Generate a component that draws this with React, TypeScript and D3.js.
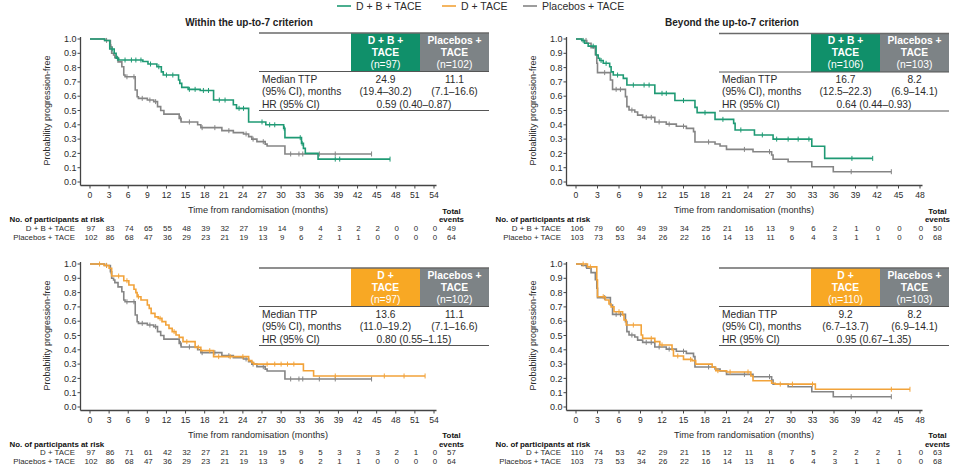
import React from 'react';
import * as d3 from 'd3';

type Step = [number, number];

const FONT = '"Liberation Sans", Arial, Helvetica, sans-serif';
const GREEN = '#1f9a74';
const GREEN_CELL = '#10906a';
const ORANGE = '#f2a33a';
const ORANGE_CELL = '#f8a824';
const GREY = '#858585';
const GREY_CELL = '#7d8386';
const INK = '#2b2b2b';

// legend
const legendLabels = ['D + B + TACE', 'D + TACE', 'Placebos + TACE'];

// axis ticks
const xTicksWithin = [0, 3, 6, 9, 12, 15, 18, 21, 24, 27, 30, 33, 36, 39, 42, 45, 48, 51, 54];
const xTicksBeyond = [0, 3, 6, 9, 12, 15, 18, 21, 24, 27, 30, 33, 36, 39, 42, 45, 48];
const yTicks = [0, 0.1, 0.2, 0.3, 0.4, 0.5, 0.6, 0.7, 0.8, 0.9, 1.0];

// Kaplan-Meier steps: [month, probability after the drop]
const dbWithin: Step[] = [
  [0, 1], [2.3, 0.99], [3.1, 0.93], [3.8, 0.9], [4.1, 0.865], [4.5, 0.853], [8.3, 0.843],
  [9.1, 0.825], [10.5, 0.806], [11.2, 0.77], [11.5, 0.748], [13.9, 0.713], [14.1, 0.69],
  [14.4, 0.662], [15.4, 0.648], [17.3, 0.64], [19.4, 0.573], [22.5, 0.54], [23.0, 0.515],
  [24.9, 0.42], [27.6, 0.4], [30.4, 0.375], [30.6, 0.31], [33.2, 0.27], [33.5, 0.235],
  [33.8, 0.2], [35.8, 0.16],
];
const dbWithinEnd = 47.1;
const dbWithinCensor = [3.5, 4.3, 5.5, 6.5, 7.2, 8, 9.5, 10.8, 12, 13, 15.6, 16.5, 17.8, 18.6, 20.3, 21.2, 23.4, 24.1, 27, 28.2, 29, 30.5, 33, 33.3, 38.5, 39.2, 47.1];

const placeboWithin: Step[] = [
  [0, 1], [2.3, 0.99], [3.2, 0.946], [3.4, 0.9], [3.7, 0.888], [3.9, 0.87], [4.4, 0.84],
  [5.0, 0.806], [5.3, 0.748], [5.5, 0.736], [7.1, 0.643], [7.4, 0.596], [7.6, 0.585],
  [9.0, 0.573], [10.0, 0.562], [10.6, 0.527], [11.1, 0.5], [11.6, 0.475], [14.0, 0.445],
  [14.3, 0.42], [16.9, 0.4], [17.4, 0.38], [20.7, 0.359], [22.5, 0.345], [24.1, 0.336],
  [24.9, 0.317], [25.4, 0.3], [26.2, 0.282], [27.5, 0.265], [27.8, 0.252], [30.6, 0.196],
];
const placeboWithinEnd = 44.2;
const placeboWithinCensor = [2.6, 3.3, 5.8, 6.9, 8.2, 9.4, 10.3, 14.2, 15.6, 17.6, 19.6, 21.8, 24.5, 25.6, 27.2, 31.5, 32.8, 33.4, 36, 38.5, 44.2];

const dWithin: Step[] = [
  [0, 1], [2.2, 0.99], [3.0, 0.97], [3.4, 0.916], [5.3, 0.883], [6.1, 0.853], [6.9, 0.823],
  [7.2, 0.8], [7.4, 0.771], [8.0, 0.748], [9.0, 0.713], [9.3, 0.69], [9.6, 0.655],
  [10.2, 0.63], [10.7, 0.62], [11.3, 0.597], [11.9, 0.573], [12.4, 0.55], [12.9, 0.527],
  [13.5, 0.503], [14.0, 0.487], [14.6, 0.457], [16.5, 0.417], [17.4, 0.394], [19.4, 0.352],
  [24.9, 0.324], [25.4, 0.31], [25.7, 0.3], [33.5, 0.254], [35.1, 0.217],
];
const dWithinEnd = 52.6;
const dWithinCensor = [1.5, 2.6, 4.5, 5.8, 7.6, 11, 13.2, 15.2, 17, 18.8, 20.2, 22, 24, 27.8, 29, 30, 31, 32, 38.5, 46.2, 49.3, 52.6];

const dbBeyond: Step[] = [
  [0, 1], [0.8, 0.99], [1.2, 0.97], [1.7, 0.95], [2.8, 0.888], [3.1, 0.865], [3.3, 0.85],
  [3.8, 0.83], [4.7, 0.806], [4.9, 0.77], [5.2, 0.748], [6.6, 0.725], [7.1, 0.678],
  [11.0, 0.62], [13.8, 0.57], [16.6, 0.522], [16.9, 0.485], [19.4, 0.438], [22.0, 0.41],
  [22.2, 0.364], [24.9, 0.329], [27.5, 0.3], [32.9, 0.25], [34.7, 0.165],
];
const dbBeyondEnd = 41.4;
const dbBeyondCensor = [1, 2.4, 3.5, 4.2, 5.8, 8, 9.5, 10.2, 12, 12.6, 15, 18, 20.5, 23, 26, 28, 29.6, 31, 32.5, 38.5, 41.4];

const placeboBeyond: Step[] = [
  [0, 1], [0.8, 0.99], [1.5, 0.97], [2.1, 0.94], [2.7, 0.89], [2.9, 0.83], [3.0, 0.765],
  [4.8, 0.713], [5.1, 0.648], [6.9, 0.597], [7.1, 0.527], [7.4, 0.503], [8.2, 0.49],
  [8.6, 0.468], [9.3, 0.452], [11.0, 0.42], [12.6, 0.405], [14.0, 0.39], [15.4, 0.375],
  [16.4, 0.352], [16.6, 0.28], [19.4, 0.266], [20.1, 0.252], [21.0, 0.228], [24.7, 0.212],
  [27.3, 0.189], [27.5, 0.159], [29.6, 0.142], [32.9, 0.107], [35.9, 0.072],
];
const placeboBeyondEnd = 44.0;
const placeboBeyondCensor = [1.4, 4, 5.6, 6.2, 7.8, 9.8, 10.5, 11.6, 13, 15, 18.5, 23.5, 27, 38.4, 44];

const dBeyond: Step[] = [
  [0, 1], [1.6, 0.98], [2.9, 0.888], [3.0, 0.771], [4.1, 0.748], [4.6, 0.72], [4.9, 0.7],
  [5.3, 0.666], [6.5, 0.643], [6.7, 0.608], [7.0, 0.573], [9.1, 0.503], [9.3, 0.48],
  [11.0, 0.457], [11.7, 0.434], [13.4, 0.4], [13.6, 0.357], [15.0, 0.333], [16.2, 0.324],
  [16.7, 0.3], [19.0, 0.278], [19.5, 0.254], [21.0, 0.245], [24.4, 0.217], [24.7, 0.184],
  [27.3, 0.166], [27.8, 0.16], [33.4, 0.124],
];
const dBeyondEnd = 46.6;
const dBeyondCensor = [1, 2, 3.8, 6, 8, 10.5, 12, 14.2, 16, 19.8, 21.5, 24, 28.5, 30.2, 33, 44, 46.6];

// participants at risk
const riskDbWithin = [97, 83, 74, 65, 55, 48, 39, 32, 27, 19, 14, 9, 4, 3, 2, 2, 0, 0, 0];
const riskPlaceboWithin = [102, 86, 68, 47, 36, 29, 23, 21, 19, 13, 9, 6, 2, 1, 1, 0, 0, 0, 0];
const riskDWithin = [97, 86, 71, 61, 42, 32, 27, 21, 21, 19, 15, 9, 5, 3, 3, 3, 2, 1, 0];
const riskDbBeyond = [106, 79, 60, 49, 39, 34, 25, 21, 16, 13, 9, 6, 2, 1, 0, 0, 0];
const riskPlaceboBeyond = [103, 73, 53, 34, 26, 22, 16, 14, 13, 11, 6, 4, 3, 1, 1, 0, 0];
const riskDBeyond = [110, 74, 53, 42, 29, 21, 15, 12, 11, 8, 7, 5, 2, 2, 2, 1, 0];

interface Series { steps: Step[]; end: number; censor: number[]; color: string }
interface RiskRow { label: string; values: number[]; total: number }
interface TableCfg {
  x: number; y: number;
  head: { lines: string[]; color: string }[];
  median: string[]; ci: string[]; hr: string;
}
interface PanelCfg {
  x0: number; x1: number; y1: number; y0: number;
  xMax: number; xTicks: number[];
  title?: string; titleX?: number;
  series: Series[];
  table: TableCfg;
  riskHeadY: number; riskRowsY: number[]; totalY: number[];
  risk: RiskRow[];
}

const survAt = (steps: Step[], t: number) => {
  let s = 1;
  for (const [ts, v] of steps) if (ts <= t) s = v;
  return s;
};

const KMTable: React.FC<{ t: TableCfg }> = ({ t }) => {
  const labelW = 92;
  const colW = 69;
  const headH = 38.5;
  const totalH = 77.5;
  const col = (i: number) => t.x + labelW + colW * i;
  return (
    <g fontFamily={FONT}>
      {t.head.map((h, i) => (
        <g key={i}>
          <rect x={col(i)} y={t.y} width={colW} height={headH} fill={h.color} />
          {h.lines.map((ln, j) => (
            <text key={j} x={col(i) + colW / 2} y={t.y + 10.5 + j * 12} textAnchor="middle"
              fill="#fff" fontSize={10.3} fontWeight={j < 2 ? 700 : 400}>{ln}</text>
          ))}
        </g>
      ))}
      <line x1={t.x} x2={col(2)} y1={t.y} y2={t.y} stroke="#6a6a6a" strokeWidth={1.4} />
      <line x1={t.x} x2={col(2)} y1={t.y + headH} y2={t.y + headH} stroke="#555" strokeWidth={1} />
      <line x1={t.x} x2={col(2)} y1={t.y + totalH} y2={t.y + totalH} stroke="#555" strokeWidth={1} />
      <g fontSize={10.2} fill={INK}>
        <text x={t.x + 3} y={t.y + 49.5}>Median TTP</text>
        <text x={t.x + 3} y={t.y + 61.5}>(95% CI), months</text>
        <text x={t.x + 3} y={t.y + 74.5}>HR (95% CI)</text>
        {t.median.map((m, i) => (
          <text key={'m' + i} x={col(i) + colW / 2} y={t.y + 49.5} textAnchor="middle">{m}</text>
        ))}
        {t.ci.map((m, i) => (
          <text key={'c' + i} x={col(i) + colW / 2} y={t.y + 61.5} textAnchor="middle">{m}</text>
        ))}
        <text x={col(1) - 6} y={t.y + 74.5} textAnchor="middle">{t.hr}</text>
      </g>
    </g>
  );
};

const KMPanel: React.FC<{ cfg: PanelCfg }> = ({ cfg }) => {
  const x = d3.scaleLinear().domain([0, cfg.xMax]).range([cfg.x0, cfg.x1]);
  const y = d3.scaleLinear().domain([0, 1]).range([cfg.y0, cfg.y1]);
  const line = d3.line<Step>().x(d => x(d[0])).y(d => y(d[1])).curve(d3.curveStepAfter);
  const axisX = cfg.x0 - 9.5;
  const axisY = cfg.y0 + 3.5;
  const fmt = d3.format('.1f');
  const rfs = 7.9;

  return (
    <g fontFamily={FONT}>
      {cfg.title && (
        <text x={cfg.titleX} y={cfg.y1 - 13} textAnchor="middle" fontSize={10} fontWeight={700} fill="#222">
          {cfg.title}
        </text>
      )}
      <KMTable t={cfg.table} />

      {/* axes */}
      <line x1={axisX} x2={axisX} y1={y(1) - 2} y2={axisY} stroke="#444" strokeWidth={1.3} />
      <line x1={axisX} x2={cfg.x1 + 2.5} y1={axisY} y2={axisY} stroke="#444" strokeWidth={1.3} />
      {yTicks.map(v => (
        <g key={v}>
          <line x1={axisX - 3} x2={axisX} y1={y(v)} y2={y(v)} stroke="#444" />
          <text x={axisX - 4} y={y(v)} dy="0.35em" textAnchor="end" fontSize={9} fill={INK}>{fmt(v)}</text>
        </g>
      ))}
      {cfg.xTicks.map(v => (
        <g key={v}>
          <line x1={x(v)} x2={x(v)} y1={axisY} y2={axisY + 3} stroke="#444" />
          <text x={x(v)} y={axisY + 12.5} textAnchor="middle" fontSize={8.6} fill={INK}>{v}</text>
        </g>
      ))}
      <text x={(cfg.x0 + cfg.x1) / 2 - 4} y={axisY + 27} textAnchor="middle" fontSize={9.2} fill={INK}>
        Time from randomisation (months)
      </text>
      <text transform={`translate(${axisX - 31},${(y(1) + y(0)) / 2}) rotate(-90)`} textAnchor="middle"
        fontSize={9} fill={INK}>
        Probability progression-free
      </text>

      {/* curves, placebo first */}
      {cfg.series.map((s, i) => {
        const last = s.steps[s.steps.length - 1][1];
        const pts: Step[] = [...s.steps, [s.end, last]];
        return (
          <g key={i}>
            <path d={line(pts) || ''} fill="none" stroke={s.color} strokeWidth={1.6} />
            {s.censor.map((c, j) => (
              <line key={j} x1={x(c)} x2={x(c)} y1={y(survAt(s.steps, c)) - 2.5}
                y2={y(survAt(s.steps, c)) + 2.5} stroke={s.color} strokeWidth={1} />
            ))}
          </g>
        );
      })}

      {/* risk table */}
      <text x={cfg.x0 - 80.5} y={cfg.riskHeadY} dy="0.35em" fontSize={rfs} fontWeight={700} fill="#111">
        No. of participants at risk
      </text>
      <text x={cfg.x1 + 17.5} y={cfg.totalY[0]} dy="0.35em" textAnchor="middle" fontSize={rfs} fontWeight={700} fill="#111">Total</text>
      <text x={cfg.x1 + 17.5} y={cfg.totalY[1]} dy="0.35em" textAnchor="middle" fontSize={rfs} fontWeight={700} fill="#111">events</text>
      {cfg.risk.map((r, i) => (
        <g key={r.label} fontSize={rfs} fill={INK}>
          <text x={cfg.x0 - 15} y={cfg.riskRowsY[i]} dy="0.35em" textAnchor="end">{r.label}</text>
          {r.values.map((v, j) => (
            <text key={j} x={x(cfg.xTicks[j]) + 1} y={cfg.riskRowsY[i]} dy="0.35em" textAnchor="middle">{v}</text>
          ))}
          <text x={cfg.x1 + 17.5} y={cfg.riskRowsY[i]} dy="0.35em" textAnchor="middle">{r.total}</text>
        </g>
      ))}
    </g>
  );
};

const panels: PanelCfg[] = [
  {
    x0: 90, x1: 434, y1: 39, y0: 182, xMax: 54, xTicks: xTicksWithin,
    title: 'Within the up-to-7 criterion', titleX: 249,
    series: [
      { steps: placeboWithin, end: placeboWithinEnd, censor: placeboWithinCensor, color: GREY },
      { steps: dbWithin, end: dbWithinEnd, censor: dbWithinCensor, color: GREEN },
    ],
    table: {
      x: 259, y: 33,
      head: [
        { lines: ['D + B +', 'TACE', '(n=97)'], color: GREEN_CELL },
        { lines: ['Placebos +', 'TACE', '(n=102)'], color: GREY_CELL },
      ],
      median: ['24.9', '11.1'], ci: ['(19.4–30.2)', '(7.1–16.6)'], hr: '0.59 (0.40–0.87)',
    },
    riskHeadY: 219, riskRowsY: [228.7, 237.2], totalY: [211, 219.5],
    risk: [
      { label: 'D + B + TACE', values: riskDbWithin, total: 49 },
      { label: 'Placebos + TACE', values: riskPlaceboWithin, total: 64 },
    ],
  },
  {
    x0: 576, x1: 920, y1: 39, y0: 182, xMax: 48, xTicks: xTicksBeyond,
    title: 'Beyond the up-to-7 criterion', titleX: 732,
    series: [
      { steps: placeboBeyond, end: placeboBeyondEnd, censor: placeboBeyondCensor, color: GREY },
      { steps: dbBeyond, end: dbBeyondEnd, censor: dbBeyondCensor, color: GREEN },
    ],
    table: {
      x: 719, y: 33.5,
      head: [
        { lines: ['D + B +', 'TACE', '(n=106)'], color: GREEN_CELL },
        { lines: ['Placebos +', 'TACE', '(n=103)'], color: GREY_CELL },
      ],
      median: ['16.7', '8.2'], ci: ['(12.5–22.3)', '(6.9–14.1)'], hr: '0.64 (0.44–0.93)',
    },
    riskHeadY: 219, riskRowsY: [228.7, 237.2], totalY: [211, 219.5],
    risk: [
      { label: 'D + B + TACE', values: riskDbBeyond, total: 50 },
      { label: 'Placebo + TACE', values: riskPlaceboBeyond, total: 68 },
    ],
  },
  {
    x0: 90, x1: 434, y1: 264, y0: 407, xMax: 54, xTicks: xTicksWithin,
    series: [
      { steps: placeboWithin, end: placeboWithinEnd, censor: placeboWithinCensor, color: GREY },
      { steps: dWithin, end: dWithinEnd, censor: dWithinCensor, color: ORANGE },
    ],
    table: {
      x: 259, y: 268,
      head: [
        { lines: ['D +', 'TACE', '(n=97)'], color: ORANGE_CELL },
        { lines: ['Placebos +', 'TACE', '(n=102)'], color: GREY_CELL },
      ],
      median: ['13.6', '11.1'], ci: ['(11.0–19.2)', '(7.1–16.6)'], hr: '0.80 (0.55–1.15)',
    },
    riskHeadY: 444, riskRowsY: [452.6, 461.2], totalY: [435.5, 444],
    risk: [
      { label: 'D + TACE', values: riskDWithin, total: 57 },
      { label: 'Placebos + TACE', values: riskPlaceboWithin, total: 64 },
    ],
  },
  {
    x0: 576, x1: 920, y1: 264, y0: 407, xMax: 48, xTicks: xTicksBeyond,
    series: [
      { steps: placeboBeyond, end: placeboBeyondEnd, censor: placeboBeyondCensor, color: GREY },
      { steps: dBeyond, end: dBeyondEnd, censor: dBeyondCensor, color: ORANGE },
    ],
    table: {
      x: 719, y: 268,
      head: [
        { lines: ['D +', 'TACE', '(n=110)'], color: ORANGE_CELL },
        { lines: ['Placebos +', 'TACE', '(n=103)'], color: GREY_CELL },
      ],
      median: ['9.2', '8.2'], ci: ['(6.7–13.7)', '(6.9–14.1)'], hr: '0.95 (0.67–1.35)',
    },
    riskHeadY: 444, riskRowsY: [452.6, 461.2], totalY: [435.5, 444],
    risk: [
      { label: 'D + TACE', values: riskDBeyond, total: 63 },
      { label: 'Placebos + TACE', values: riskPlaceboBeyond, total: 68 },
    ],
  },
];

const legendX = [337, 442, 523];
const legendColors = [GREEN, ORANGE, GREY];

const App: React.FC = () => (
  <div style={{ position: 'absolute', left: 0, top: 0 }}>
    <svg width={960} height={470} style={{ display: 'block', background: '#fff' }}>
      <g fontFamily={FONT} fontSize={10.5} fill={INK}>
        {legendLabels.map((l, i) => (
          <g key={l}>
            <line x1={legendX[i]} x2={legendX[i] + 14} y1={6} y2={6} stroke={legendColors[i]} strokeWidth={1.6} />
            <text x={legendX[i] + 19} y={6} dy="0.35em">{l}</text>
          </g>
        ))}
      </g>
      {panels.map((p, i) => <KMPanel key={i} cfg={p} />)}
    </svg>
  </div>
);

export default App;
